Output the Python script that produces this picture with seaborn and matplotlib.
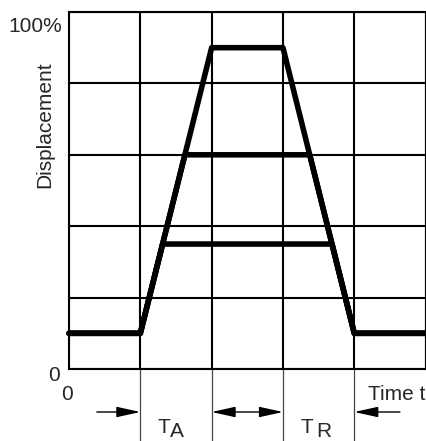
import matplotlib
matplotlib.use("Agg")
import matplotlib.pyplot as plt
import seaborn as sns
import pandas as pd

# ---- data (time in grid units, displacement in %) ----
time_high = [0, 1, 2, 3, 4, 5]
disp_high = [10, 10, 90, 90, 10, 10]
time_mid = [0, 1, 1.625, 3.375, 4, 5]
disp_mid = [10, 10, 60, 60, 10, 10]
time_low = [0, 1, 1.3125, 3.6875, 4, 5]
disp_low = [10, 10, 35, 35, 10, 10]
curve_names = ["low", "mid", "high"]
x_grid = [0, 1, 2, 3, 4, 5]
y_grid = [0, 20, 40, 60, 80, 100]
interval_edges = [1, 2, 3, 4]

sns.set_style("white")
plt.rcParams["font.family"] = ["Liberation Sans", "DejaVu Sans"]

W, H = 427, 441
fig = plt.figure(figsize=(W / 100, H / 100), dpi=100)
ax = fig.add_axes([69 / W, 72 / H, (425.6 - 69) / W, (369 - 12) / H])

frames = []
for name, t, d in zip(curve_names, [time_low, time_mid, time_high],
                      [disp_low, disp_mid, disp_high]):
    frames.append(pd.DataFrame({"time": t, "disp": d, "curve": name}))
df = pd.concat(frames, ignore_index=True)

sns.lineplot(data=df, x="time", y="disp", units="curve", estimator=None,
             sort=False, color="black", lw=4.0, ax=ax, legend=False)
for ln in ax.lines:
    ln.set_solid_joinstyle("round")
    ln.set_solid_capstyle("round")
    ln.set_clip_on(False)
    ln.set_zorder(3)

ax.set_xlim(0, 5)
ax.set_ylim(0, 100)
ax.set_xticks(x_grid)
ax.set_yticks(y_grid)
ax.set_xticklabels([])
ax.set_yticklabels([])
ax.tick_params(length=0)
ax.grid(True, color="black", lw=1.5)
ax.set_xlabel("")
ax.set_ylabel("")
for s in ax.spines.values():
    s.set_visible(True)
    s.set_color("black")
    s.set_linewidth(1.5)

# vertical extensions below the axes
for xe in interval_edges:
    ax.plot([xe, xe], [0, -25], color="#444444", lw=0.9, clip_on=False, zorder=1)

# arrows
arrow_y = H - 412
akw = dict(arrowstyle="-|>,head_length=1.45,head_width=0.32", color="black",
           lw=1.0, shrinkA=0, shrinkB=0, mutation_scale=10)
ax.annotate("", xy=(interval_edges[0], arrow_y), xytext=(0.39, arrow_y),
            xycoords=("data", "figure pixels"), textcoords=("data", "figure pixels"),
            arrowprops=akw, annotation_clip=False)
ax.annotate("", xy=(interval_edges[3], arrow_y), xytext=(4.64, arrow_y),
            xycoords=("data", "figure pixels"), textcoords=("data", "figure pixels"),
            arrowprops=akw, annotation_clip=False)
dkw = dict(akw)
dkw["arrowstyle"] = "<|-|>,head_length=1.45,head_width=0.32"
ax.annotate("", xy=(interval_edges[2], arrow_y), xytext=(interval_edges[1], arrow_y),
            xycoords=("data", "figure pixels"), textcoords=("data", "figure pixels"),
            arrowprops=dkw, annotation_clip=False)

fs = 15
def ftext(x, y, s, **kw):
    fig.text(x / W, 1 - y / H, s, fontsize=kw.pop("fontsize", fs), **kw)

ftext(62, 32, "100%", ha="right", va="baseline")
ftext(45, 125, "Displacement", ha="center", va="center", rotation=90)
ftext(54, 381, "0", ha="center", va="baseline")
ftext(67, 400, "0", ha="center", va="baseline")
ftext(368, 400, "Time t", ha="left", va="baseline")
ftext(157, 433, "T", ha="left", va="baseline")
ftext(170, 437, "A", ha="left", va="baseline")
ftext(301, 433, "T", ha="left", va="baseline")
ftext(316, 437, "R", ha="left", va="baseline")

fig.savefig("out.png", dpi=100)
